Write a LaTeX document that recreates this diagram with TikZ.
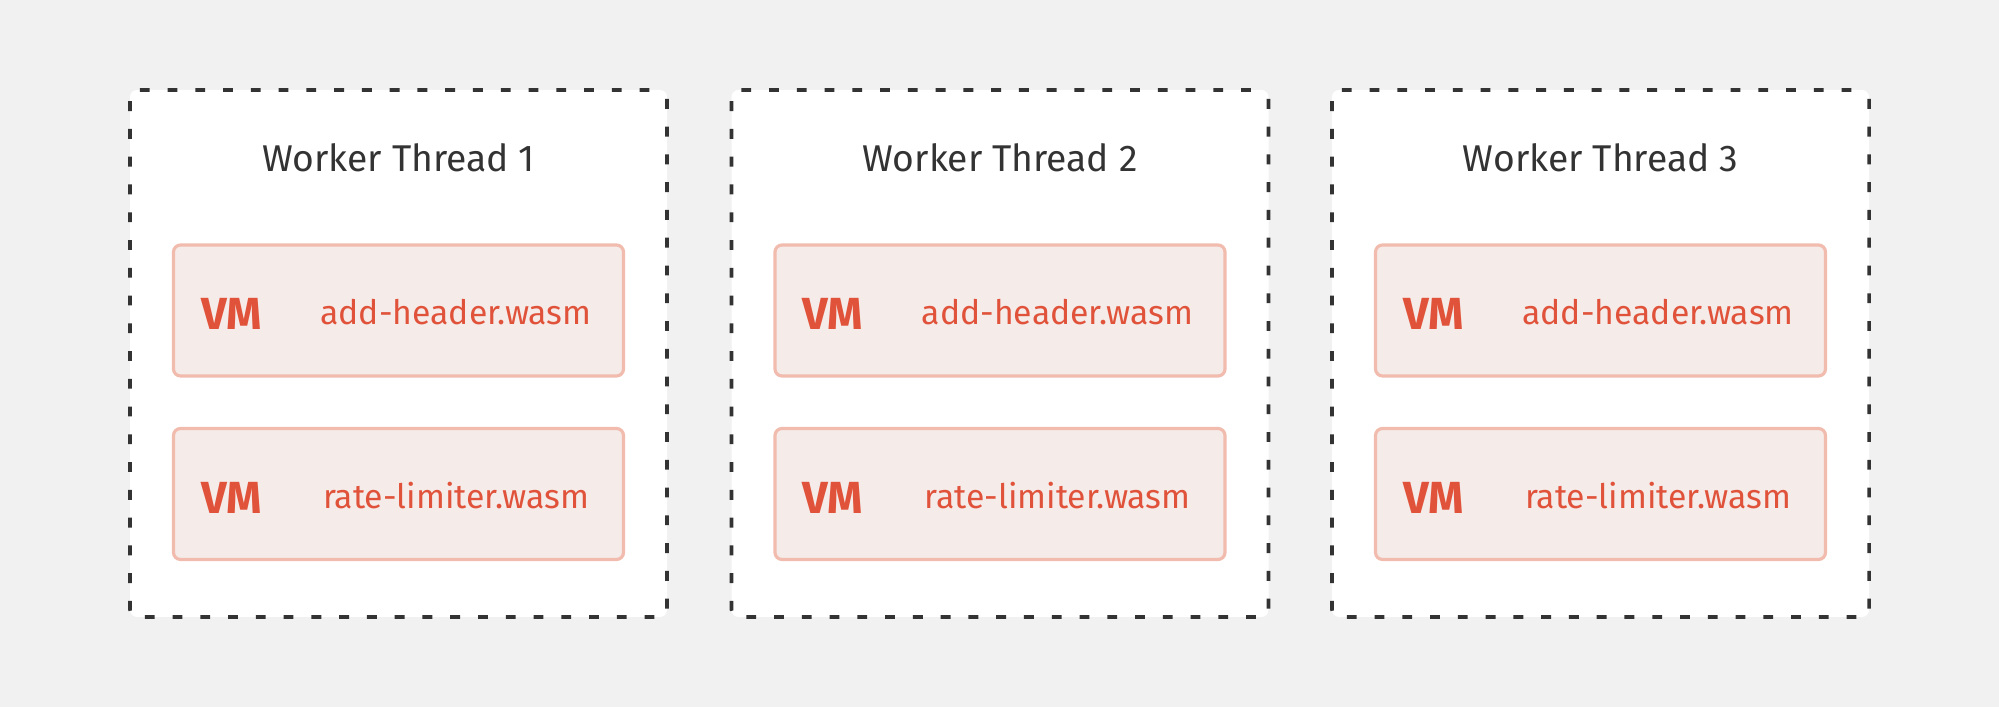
\documentclass[tikz,border=0pt]{standalone}
\usepackage{fontspec}
\setmainfont{Fira Sans}
\usetikzlibrary{positioning, calc}
\definecolor{PageGrey}{HTML}{F1F1F1}
\definecolor{FrameDark}{HTML}{333333}
\definecolor{TitleDark}{HTML}{333333}
\definecolor{VMFill}{HTML}{F5EBE9}
\definecolor{VMBorder}{HTML}{F1BCAE}
\definecolor{VMRed}{HTML}{E0533A}
\tikzset{
    % Frame styles
    threadbox/.style={
        rectangle,
        draw=FrameDark,
        fill=white,
        line width=1pt,
        dash pattern=on 2.8pt off 5.1pt,
        dash phase=-3pt,
        rounded corners=2pt,
        minimum width=5.37cm,
        minimum height=5.27cm
    },
    threadtitle/.style={
        anchor=base,
        text=TitleDark,
        font=\fontsize{10.6}{13}\selectfont
    },
    % VM styles
    vmbox/.style={
        rectangle,
        draw=VMBorder,
        fill=VMFill,
        line width=0.9pt,
        rounded corners=2pt,
        minimum width=4.5cm,
        minimum height=1.31cm
    },
    vmtag/.style={
        anchor=base west,
        inner sep=0pt,
        text=VMRed,
        font=\fontsize{12.8}{15}\selectfont\bfseries
    },
    wasmlabel/.style={
        anchor=base,
        inner sep=0pt,
        text=VMRed,
        font=\fontsize{9.6}{12}\selectfont
    }
}
\begin{document}
\begin{tikzpicture}
    % Page
    \fill[PageGrey] (0,0) rectangle (19.99,7.07);
    \useasboundingbox (0,0) rectangle (19.99,7.07);

    % Thread 1
    \node[threadbox] (thread1) at (3.985,3.535) {};
    \node[threadtitle] (title1) at (3.985,5.35) {Worker Thread 1};
    \node[vmbox] (vm1a) at (3.985,3.965) {};
    \node[vmtag] (tag1a) at ($(vm1a.center)+(-1.98,-0.195)$) {VM};
    \node[wasmlabel] (file1a) at ($(vm1a.center)+(0.575,-0.145)$) {add-header.wasm};
    \node[vmbox] (vm1b) at (3.985,2.13) {};
    \node[vmtag] (tag1b) at ($(vm1b.center)+(-1.98,-0.195)$) {VM};
    \node[wasmlabel] (file1b) at ($(vm1b.center)+(0.575,-0.145)$) {rate-limiter.wasm};

    % Thread 2
    \node[threadbox] (thread2) at (10.0,3.535) {};
    \node[threadtitle] (title2) at (10.0,5.35) {Worker Thread 2};
    \node[vmbox] (vm2a) at (10.0,3.965) {};
    \node[vmtag] (tag2a) at ($(vm2a.center)+(-1.98,-0.195)$) {VM};
    \node[wasmlabel] (file2a) at ($(vm2a.center)+(0.575,-0.145)$) {add-header.wasm};
    \node[vmbox] (vm2b) at (10.0,2.13) {};
    \node[vmtag] (tag2b) at ($(vm2b.center)+(-1.98,-0.195)$) {VM};
    \node[wasmlabel] (file2b) at ($(vm2b.center)+(0.575,-0.145)$) {rate-limiter.wasm};

    % Thread 3
    \node[threadbox] (thread3) at (16.005,3.535) {};
    \node[threadtitle] (title3) at (16.005,5.35) {Worker Thread 3};
    \node[vmbox] (vm3a) at (16.005,3.965) {};
    \node[vmtag] (tag3a) at ($(vm3a.center)+(-1.98,-0.195)$) {VM};
    \node[wasmlabel] (file3a) at ($(vm3a.center)+(0.575,-0.145)$) {add-header.wasm};
    \node[vmbox] (vm3b) at (16.005,2.13) {};
    \node[vmtag] (tag3b) at ($(vm3b.center)+(-1.98,-0.195)$) {VM};
    \node[wasmlabel] (file3b) at ($(vm3b.center)+(0.575,-0.145)$) {rate-limiter.wasm};
\end{tikzpicture}
\end{document}
